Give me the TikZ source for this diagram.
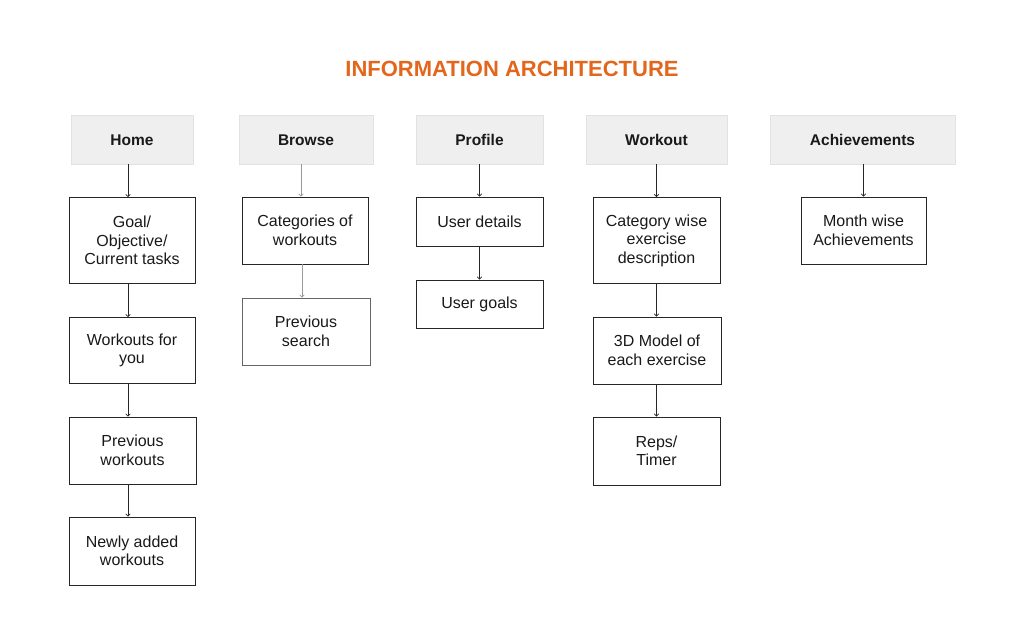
\documentclass[tikz,border=0pt]{standalone}
\usepackage{fontspec}
\setmainfont{Liberation Sans}
\usetikzlibrary{arrows.meta}
\definecolor{hdrfill}{HTML}{EFEFEF}
\definecolor{hdrline}{HTML}{E2E2E2}
\definecolor{titlec}{HTML}{E2661C}
\tikzset{
  hdr/.style={draw=hdrline, fill=hdrfill, inner sep=0pt, text height=13.5pt, text depth=2.5pt, font=\fontsize{15.5}{18}\selectfont\bfseries, text=black!90},
  box/.style={draw=black!85, line width=0.9pt, inner sep=0pt, align=center, font=\fontsize{16}{18.5}\selectfont, text=black!90},
  arr/.style={draw=black!85, line width=0.7pt, -{To[length=3pt,width=5pt]}},
  garr/.style={draw=black!40, line width=0.7pt, -{To[length=3pt,width=5pt]}}
}
\begin{document}
\begin{tikzpicture}[x=1pt,y=-1pt]
\useasboundingbox (0,0) rectangle (1024,640);
\node[font=\fontsize{22}{24}\selectfont\bfseries, text=titlec] (title) at (512,69) {INFORMATION ARCHITECTURE};
% headers
\node[hdr, minimum width=122, minimum height=49] (h1) at (132,139.5) {Home};
\node[hdr, minimum width=134, minimum height=49] (h2) at (306,139.5) {Browse};
\node[hdr, minimum width=127, minimum height=49] (h3) at (479.5,139.5) {Profile};
\node[hdr, minimum width=141, minimum height=49] (h4) at (656.5,139.5) {Workout};
\node[hdr, minimum width=185, minimum height=49] (h5) at (862.5,139.5) {Achievements};
% Home column
\node[box, minimum width=126, minimum height=86] (a1) at (132,240.5) {Goal/\\Objective/\\Current tasks};
\node[box, minimum width=126, minimum height=66] (a2) at (132,350.5) {Workouts for\\you};
\node[box, minimum width=127, minimum height=67] (a3) at (132.5,450.5) {Previous\\workouts};
\node[box, minimum width=126, minimum height=68] (a4) at (132,551) {Newly added\\workouts};
% Browse
\node[box, minimum width=126, minimum height=67] (b1) at (305,230.5) {Categories of\\workouts};
\node[box, minimum width=128, minimum height=67, draw=black!60] (b2) at (306,331.5) {Previous\\search};
% Profile
\node[box, minimum width=127, minimum height=49] (p1) at (479.5,221.5) {User details};
\node[box, minimum width=127, minimum height=48] (p2) at (479.5,304) {User goals};
% Workout
\node[box, minimum width=127, minimum height=86] (w1) at (656.5,240.5) {Category wise\\exercise\\description};
\node[box, minimum width=128, minimum height=67] (w2) at (657,350.5) {3D Model of\\each exercise};
\node[box, minimum width=127, minimum height=68] (w3) at (656.5,451) {Reps/\\Timer};
% Achievements
\node[box, minimum width=125, minimum height=67] (m1) at (863.5,230.5) {Month wise\\Achievements};
% arrows
\draw[arr] ([xshift=-4pt]h1.south) -- ([xshift=-4pt]a1.north);
\draw[arr] ([xshift=-4pt]a1.south) -- ([xshift=-4pt]a2.north);
\draw[arr] ([xshift=-4.5pt]a3.north |- a2.south) -- ([xshift=-4.5pt]a3.north);
\draw[arr] ([xshift=-4.5pt]a3.south) -- ([xshift=-4pt]a4.north);
\draw[garr] ([xshift=-5pt]h2.south) -- ([xshift=-4pt]b1.north);
\draw[garr] ([xshift=-3pt]b1.south) -- ([xshift=-4pt]b2.north);
\draw[arr] (h3.south) -- (p1.north);
\draw[arr] (p1.south) -- (p2.north);
\draw[arr] (h4.south) -- (w1.north);
\draw[arr] (w1.south) -- (w2.north -| w1.south);
\draw[arr] (w2.south -| w1.south) -- (w3.north -| w1.south);
\draw[arr] (m1.north |- h5.south) -- (m1.north);
\end{tikzpicture}
\end{document}
